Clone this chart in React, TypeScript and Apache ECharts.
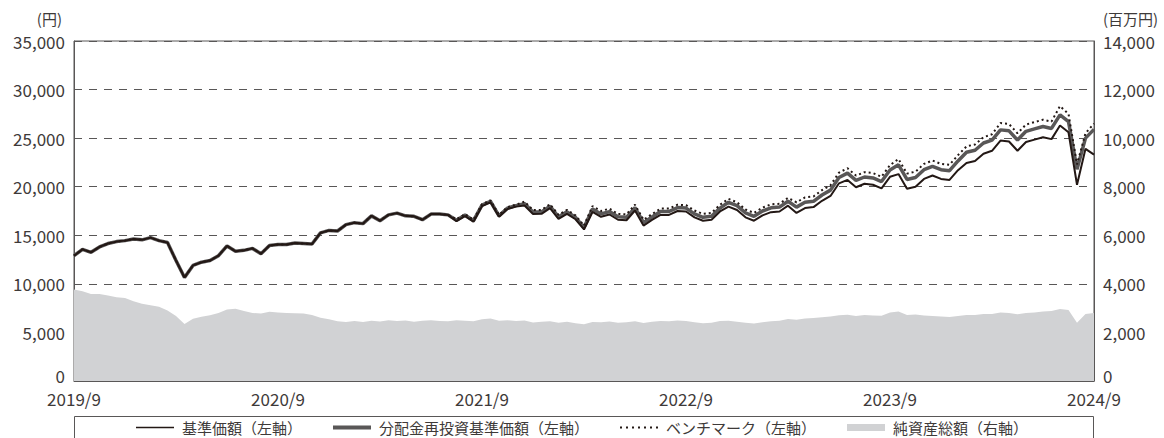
import React, { useEffect, useRef } from "react";
import * as echarts from "echarts";

// Semi-monthly observations from 2019/9 to 2024/9 (121 points)
const baseNav = [
  12900, 13550, 13250, 13800, 14150, 14350, 14450, 14620, 14530, 14760,
  14450, 14250, 12400, 10650, 11900, 12230, 12400, 12900, 13900, 13350,
  13450, 13650, 13100, 13950, 14050, 14050, 14200, 14150, 14100, 15250,
  15500, 15440, 16100, 16300, 16200, 17000, 16500, 17100, 17280, 17000,
  16950, 16600, 17180, 17200, 17100, 16450, 16980, 16400, 18000, 18400,
  16900, 17700, 17950, 18060, 17200, 17210, 17800, 16700, 17210, 16650,
  15600, 17400, 16900, 17140, 16600, 16550, 17550, 16000, 16580, 17100,
  17100, 17500, 17450, 16850, 16500, 16600, 17450, 17950, 17600, 16850,
  16500, 17050, 17380, 17450, 18050, 17300, 17800, 17900, 18550, 19050,
  20350, 20700, 19950, 20300, 20200, 19830, 21020, 21300, 19800, 20000,
  20800, 21150, 20800, 20700, 21700, 22450, 22650, 23400, 23700, 24750,
  24650, 23700, 24600, 24850, 25100, 24900, 26300, 25600, 20200, 23900,
  23300,
];

const reinvestNav = [
  12900, 13550, 13250, 13800, 14150, 14350, 14450, 14620, 14530, 14760,
  14450, 14250, 12400, 10650, 11900, 12230, 12400, 12900, 13900, 13350,
  13450, 13650, 13100, 13950, 14050, 14050, 14200, 14150, 14100, 15250,
  15500, 15440, 16100, 16300, 16200, 17000, 16500, 17100, 17280, 17000,
  16950, 16600, 17180, 17200, 17100, 16550, 17080, 16500, 18100, 18500,
  17000, 17800, 18050, 18260, 17400, 17410, 18000, 16900, 17410, 16850,
  15800, 17700, 17200, 17440, 16900, 16850, 17850, 16300, 16880, 17450,
  17450, 17850, 17800, 17200, 16850, 16950, 17800, 18400, 18050, 17300,
  16950, 17500, 17830, 17900, 18500, 17900, 18400, 18500, 19150, 19650,
  20950, 21400, 20650, 21000, 20900, 20530, 21720, 22250, 20750, 20950,
  21750, 22100, 21750, 21650, 22650, 23550, 23750, 24500, 24800, 25850,
  25750, 24800, 25700, 25950, 26200, 26000, 27400, 26700, 21800, 25000,
  25900,
];

const benchmark = [
  12900, 13550, 13250, 13800, 14150, 14350, 14450, 14620, 14530, 14760,
  14450, 14250, 12400, 10650, 11900, 12230, 12400, 12900, 13900, 13350,
  13450, 13650, 13100, 13950, 14050, 14050, 14200, 14150, 14100, 15250,
  15500, 15440, 16100, 16300, 16200, 17000, 16500, 17100, 17280, 17000,
  16950, 16600, 17180, 17200, 17100, 16650, 17180, 16600, 18200, 18600,
  17100, 17900, 18150, 18460, 17600, 17610, 18200, 17100, 17610, 17050,
  16000, 18000, 17500, 17740, 17200, 17150, 18150, 16600, 17180, 17750,
  17750, 18150, 18100, 17550, 17200, 17300, 18150, 18750, 18400, 17650,
  17300, 17850, 18180, 18250, 18850, 18400, 18900, 19000, 19650, 20150,
  21450, 21900, 21150, 21500, 21400, 21030, 22220, 22850, 21350, 21550,
  22350, 22700, 22350, 22250, 23250, 24150, 24350, 25100, 25400, 26550,
  26450, 25500, 26400, 26650, 26900, 26700, 28300, 27500, 22300, 25500,
  26500,
];

// 百万円
const netAssets = [
  3770, 3700, 3580, 3580, 3520, 3450, 3420, 3280, 3180, 3120,
  3060, 2900, 2680, 2350, 2560, 2650, 2710, 2800, 2940, 2970,
  2880, 2800, 2780, 2850, 2820, 2800, 2790, 2780, 2720, 2600,
  2540, 2460, 2430, 2470, 2430, 2480, 2450, 2500, 2470, 2490,
  2440, 2480, 2500, 2470, 2460, 2500, 2480, 2460, 2540, 2570,
  2480, 2500, 2470, 2490, 2410, 2440, 2460, 2400, 2440, 2380,
  2340, 2430, 2420, 2450, 2400, 2420, 2460, 2390, 2440, 2470,
  2460, 2490, 2470, 2420, 2380, 2400, 2470, 2480, 2440, 2400,
  2370, 2420, 2460, 2480, 2550, 2520, 2570, 2590, 2620, 2660,
  2710, 2730, 2680, 2720, 2700, 2690, 2820, 2860, 2720, 2740,
  2700, 2680, 2660, 2640, 2680, 2720, 2720, 2760, 2760, 2820,
  2800, 2750, 2800, 2820, 2860, 2880, 2960, 2920, 2400, 2760,
  2800,
];

const xTickLabels = ["2019/9", "2020/9", "2021/9", "2022/9", "2023/9", "2024/9"];
const seriesNames = ["基準価額（左軸）", "分配金再投資基準価額（左軸）", "ベンチマーク（左軸）", "純資産総額（右軸）"];

// category dates: even index = month end, odd index = mid-month
const dates: string[] = [];
for (let i = 0; i < baseNav.length; i++) {
  const k = Math.floor(i / 2);
  const mIdx = i % 2 === 0 ? k : k + 1;
  const total = 2019 * 12 + 8 + mIdx;
  const y = Math.floor(total / 12);
  const m = (total % 12) + 1;
  const d = i % 2 === 0 ? new Date(y, m, 0).getDate() : 15;
  dates.push(`${y}/${m}/${d}`);
}

const FONT = "'Noto Sans CJK JP', 'Noto Sans', sans-serif";
const TEXT = "#3e3a39";
const AXIS = "#595757";

const ICON_THIN = "path://M0,0H38V1.6H0Z";
const ICON_THICK = "path://M0,0H38V4H0Z";
const ICON_DOTS =
  "path://M0,0h2v2h-2zM6,0h2v2h-2zM12,0h2v2h-2zM18,0h2v2h-2zM24,0h2v2h-2zM30,0h2v2h-2zM36,0h2v2h-2z";
const ICON_BAND = "path://M0,0H38V7H0Z";

export default function App() {
  const ref = useRef<HTMLDivElement>(null);
  useEffect(() => {
    if (!ref.current) return;
    const chart = echarts.init(ref.current, undefined, { renderer: "svg" });
    const yFmt = (v: number) => (v === 0 ? "{z|0}" : v.toLocaleString("en-US"));
    const zeroRich = { z: { fontSize: 17, color: TEXT, fontFamily: FONT, padding: [0, 0, 12, 0] } };
    chart.setOption({
      animation: false,
      backgroundColor: "#ffffff",
      textStyle: { fontFamily: FONT },
      grid: {
        left: 74,
        right: 70,
        top: 41,
        bottom: 57,
        show: true,
        borderColor: AXIS,
        borderWidth: 1,
        backgroundColor: "transparent",
      },
      legend: {
        data: [
          { name: seriesNames[0], icon: ICON_THIN },
          { name: seriesNames[1], icon: ICON_THICK },
          { name: seriesNames[2], icon: ICON_DOTS },
          { name: seriesNames[3], icon: ICON_BAND },
        ],
        left: "center",
        top: 415,
        itemWidth: 38,
        itemHeight: 14,
        itemGap: 31,
        symbolKeepAspect: true,
        textStyle: { fontSize: 15, color: TEXT, fontFamily: FONT, padding: [0, 0, 0, 3] },
      },
      graphic: [
        {
          type: "rect",
          shape: { x: 74.5, y: 416.5, width: 1019, height: 40 },
          style: { fill: "none", stroke: AXIS, lineWidth: 1 },
          silent: true,
        },
      ],
      xAxis: {
        type: "category",
        data: dates,
        boundaryGap: false,
        axisLine: { lineStyle: { color: AXIS, width: 1 } },
        axisTick: { inside: true, length: 6, interval: 23, lineStyle: { color: AXIS } },
        axisLabel: {
          interval: 23,
          margin: 9,
          fontSize: 17,
          color: TEXT,
          fontFamily: FONT,
          formatter: (_v: string, idx: number) => xTickLabels[Math.round(idx / 24)] ?? "",
        },
        splitLine: { show: false },
      },
      yAxis: [
        {
          type: "value",
          min: 0,
          max: 35000,
          interval: 5000,
          name: "(円)",
          nameLocation: "end",
          nameGap: 15,
          nameTextStyle: { align: "right", padding: [0, 12, 0, 0], fontSize: 15, color: TEXT, fontFamily: FONT },
          axisLine: { show: true, lineStyle: { color: AXIS, width: 1 } },
          axisTick: { show: false },
          axisLabel: { margin: 9, fontSize: 17, color: TEXT, fontFamily: FONT, formatter: yFmt, rich: zeroRich },
          splitLine: { show: true, lineStyle: { type: [8, 7], color: AXIS, width: 1 } },
        },
        {
          type: "value",
          min: 0,
          max: 14000,
          interval: 2000,
          position: "right",
          name: "(百万円)",
          nameLocation: "end",
          nameGap: 15,
          nameTextStyle: { align: "left", padding: [0, 0, 0, 9], fontSize: 15, color: TEXT, fontFamily: FONT },
          axisLine: { show: true, lineStyle: { color: AXIS, width: 1 } },
          axisTick: { show: false },
          axisLabel: { margin: 9, fontSize: 17, color: TEXT, fontFamily: FONT, formatter: yFmt, rich: zeroRich },
          splitLine: { show: false },
        },
      ],
      series: [
        {
          name: seriesNames[3],
          type: "line",
          yAxisIndex: 1,
          data: netAssets,
          symbol: "none",
          lineStyle: { width: 0 },
          areaStyle: { color: "#d1d2d4", opacity: 1 },
          itemStyle: { color: "#d1d2d4" },
          z: 1,
        },
        {
          name: seriesNames[1],
          type: "line",
          data: reinvestNav,
          symbol: "none",
          lineStyle: { width: 3.5, color: "#595757" },
          itemStyle: { color: "#595757" },
          z: 2,
        },
        {
          name: seriesNames[0],
          type: "line",
          data: baseNav,
          symbol: "none",
          lineStyle: { width: 2, color: "#231815" },
          itemStyle: { color: "#231815" },
          z: 3,
        },
        {
          name: seriesNames[2],
          type: "line",
          data: benchmark,
          symbol: "none",
          lineStyle: { width: 2, color: "#231815", type: [2, 3] },
          itemStyle: { color: "#231815" },
          z: 4,
        },
      ],
    });
    return () => chart.dispose();
  }, []);
  return (
    <div
      ref={ref}
      style={{ position: "fixed", left: 0, top: 0, width: 1164, height: 438 }}
    />
  );
}
